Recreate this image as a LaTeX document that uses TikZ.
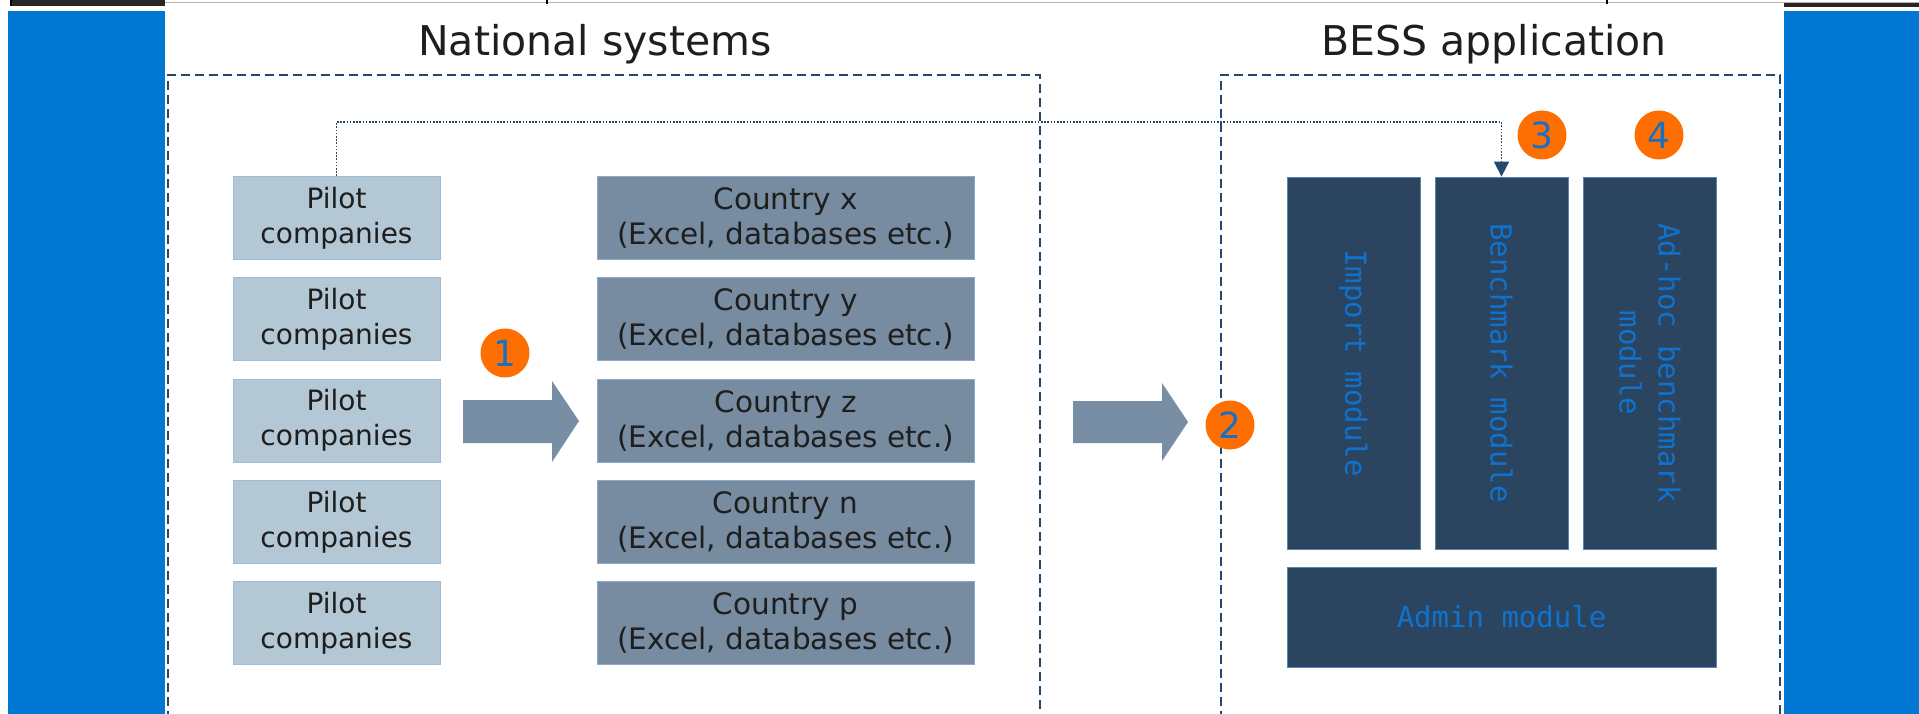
\documentclass[tikz,border=0pt]{standalone}
\usepackage{fontspec}
\setmainfont{DejaVu Sans}
\newfontfamily\modfont{DejaVu Sans Mono}
\usetikzlibrary{arrows.meta}
\definecolor{bandblue}{HTML}{0179D4}
\definecolor{pilotfill}{HTML}{B4C7D5}
\definecolor{pilotdraw}{HTML}{9DBBDA}
\definecolor{countryfill}{HTML}{778CA0}
\definecolor{countrydraw}{HTML}{8DA9C8}
\definecolor{arrowfill}{HTML}{788EA4}
\definecolor{modfill}{HTML}{2B4560}
\definecolor{moddraw}{HTML}{5B85B0}
\definecolor{modtext}{HTML}{1072CC}
\definecolor{badgeorange}{HTML}{FF6E00}
\definecolor{badgedigit}{HTML}{1A6FC4}
\definecolor{dashcol}{HTML}{24486C}
\definecolor{textdark}{HTML}{1E1E1E}
\tikzset{
  pilotbox/.style={draw=pilotdraw, line width=1pt, fill=pilotfill, minimum width=207pt, minimum height=83pt,
    inner sep=0pt, align=center, text=textdark, font=\fontsize{28}{35}\selectfont},
  countrybox/.style={draw=countrydraw, line width=1pt, fill=countryfill, minimum width=377pt, minimum height=83pt,
    inner sep=0pt, align=center, text=textdark, font=\fontsize{29.5}{35}\selectfont},
  modbox/.style={draw=moddraw, line width=0.8pt, fill=modfill, minimum width=133pt, minimum height=372pt, inner sep=0pt},
  modlabel/.style={text=modtext, font=\modfont\fontsize{29}{39}\selectfont, align=center, rotate=-90},
  badge/.style={circle, fill=badgeorange, minimum size=49pt, inner sep=0pt, text=badgedigit,
    font=\fontsize{36}{36}\selectfont},
  frameline/.style={draw=dashcol, line width=2.2pt, dash pattern=on 9pt off 5pt},
  dotline/.style={draw=dashcol, line width=1.6pt, dash pattern=on 1.6pt off 1.6pt},
  bigarrow/.style={fill=arrowfill},
  titletext/.style={text=textdark, font=\fontsize{41}{41}\selectfont, anchor=base},
}
\begin{document}
\begin{tikzpicture}[x=1pt, y=-1pt]
\useasboundingbox (0,0) rectangle (1919,714);
\clip (0,0) rectangle (1919,714);
\fill[white] (0,0) rectangle (1919,714);
% top remnants
\draw[gray!60, line width=1pt] (11,3) -- (1919,3);
\fill[black!85] (11,0) rectangle (165,6);
\fill[black!85] (1784,3) rectangle (1919,7);
\draw[black, line width=1.5pt] (11,0) -- (11,6);
\draw[black, line width=1.5pt] (547,0) -- (547,4);
\draw[black, line width=1.5pt] (1607,0) -- (1607,4);
% blue bands
\fill[bandblue] (8,11) rectangle (165,714);
\fill[bandblue] (1784,11) rectangle (1919,714);
% titles
\node[titletext] (t1) at (595,56) {National systems};
\node[titletext] (t2) at (1494,56) {BESS application};
% frames
\draw[frameline] (168,720) -- (168,75) -- (1040,75) -- (1040,720);
\draw[frameline] (1221,720) -- (1221,75) -- (1780,75) -- (1780,720);
% pilot boxes
\node[pilotbox] (p1) at (336.5,218) {Pilot\\companies};
\node[pilotbox] (p2) at (336.5,319.3) {Pilot\\companies};
\node[pilotbox] (p3) at (336.5,420.6) {Pilot\\companies};
\node[pilotbox] (p4) at (336.5,521.9) {Pilot\\companies};
\node[pilotbox] (p5) at (336.5,623.2) {Pilot\\companies};
% country boxes
\node[countrybox] (cx) at (785.5,218) {Country x\\(Excel, databases etc.)};
\node[countrybox] (cy) at (785.5,319.3) {Country y\\(Excel, databases etc.)};
\node[countrybox] (cz) at (785.5,420.6) {Country z\\(Excel, databases etc.)};
\node[countrybox] (cn) at (785.5,521.9) {Country n\\(Excel, databases etc.)};
\node[countrybox] (cp) at (785.5,623.2) {Country p\\(Excel, databases etc.)};
% big arrows
\fill[bigarrow] (463,400) -- (552,400) -- (552,381) -- (579,421) -- (552,462) -- (552,443) -- (463,443) -- cycle;
\fill[bigarrow] (1073,401) -- (1162,401) -- (1162,383) -- (1188,422) -- (1162,461) -- (1162,443) -- (1073,443) -- cycle;
% modules
\node[modbox] (im) at (1353.5,363) {};
\node[modbox] (bm) at (1501.5,363) {};
\node[modbox] (am) at (1650,363) {};
\node[modlabel] at (im.center) {Import module};
\node[modlabel] at (bm.center) {Benchmark module};
\node[modlabel] at (am.center) {Ad-hoc benchmark\\module};
\node[draw=moddraw, line width=0.8pt, fill=modfill, minimum width=429pt, minimum height=100pt, inner sep=0pt,
  text=modtext, font=\modfont\fontsize{29}{39}\selectfont] (ad) at (1501.5,617) {Admin module};
% dotted connector
\coordinate (topline) at (0,122);
\draw[dotline, -{Triangle[length=15pt,width=15pt]}] (p1.north) |- (bm.north |- topline) -- (bm.north);
% badges
\node[badge] (b1) at (505,353) {1};
\node[badge] (b2) at (1230,425) {2};
\node[badge] (b3) at (1542,135) {3};
\node[badge] (b4) at (1659,135) {4};
\end{tikzpicture}
\end{document}
